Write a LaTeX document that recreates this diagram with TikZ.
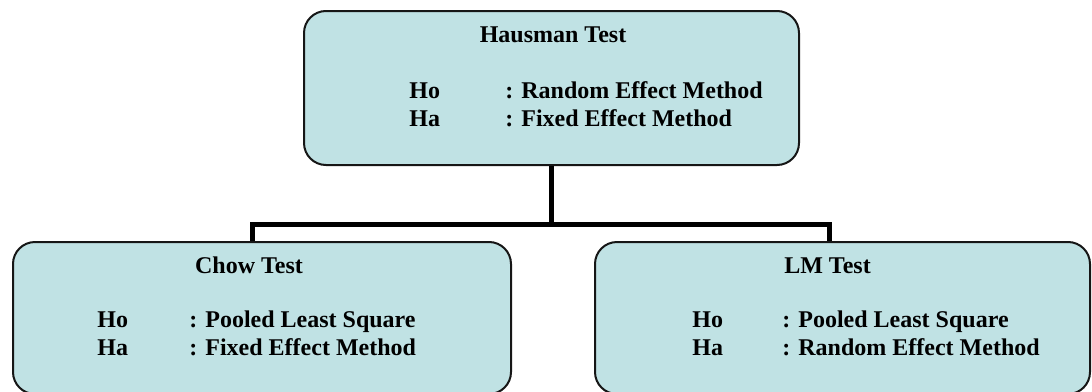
\documentclass[tikz,border=0pt]{standalone}
\usepackage{fontspec}
\setmainfont{Liberation Serif}
\usepackage{tikz}

\definecolor{boxfill}{RGB}{192,226,228}
\definecolor{boxline}{RGB}{22,22,22}
\newcommand{\hypo}[3][46pt]{\makebox[#1][l]{#2}: #3}

\begin{document}
\begin{tikzpicture}[x=0.5pt,y=-0.5pt,
  testbox/.style={draw=boxline, line width=1pt, fill=boxfill, rounded corners=11pt, inner sep=0pt},
  title/.style={font=\fontsize{12}{14}\selectfont\bfseries, inner sep=0pt, anchor=base},
  hyp/.style={font=\fontsize{12}{14}\selectfont\bfseries, inner sep=0pt, anchor=base west},
  link/.style={draw=black, line width=2.5pt}]
\useasboundingbox (0,0) rectangle (1092,391);

\node[testbox, minimum width=247.5pt, minimum height=77pt] (hausman) at (551.5,88) {};
\node[testbox, minimum width=249pt, minimum height=76pt] (chow) at (262,318) {};
\node[testbox, minimum width=247.5pt, minimum height=76pt] (lm) at (842.5,318) {};

\node[title] (hausmanT) at (553,42) {Hausman Test};
\node[hyp] (hausmanHo) at (409,98) {\hypo[48pt]{Ho}{Random Effect Method}};
\node[hyp] (hausmanHa) at (409,126) {\hypo[48pt]{Ha}{Fixed Effect Method}};

\node[title] (chowT) at (249,273) {Chow Test};
\node[hyp] (chowHo) at (97,327) {\hypo{Ho}{Pooled Least Square}};
\node[hyp] (chowHa) at (97,355) {\hypo{Ha}{Fixed Effect Method}};

\node[title] (lmT) at (827.5,273) {LM Test};
\node[hyp] (lmHo) at (692,327) {\hypo[45pt]{Ho}{Pooled Least Square}};
\node[hyp] (lmHa) at (692,355) {\hypo[45pt]{Ha}{Random Effect Method}};

\coordinate (fork) at (553,225);
\draw[link] (hausman.south) -- (hausman.south |- fork);
\draw[link] ([xshift=-5pt]chow.north) -- ++(0,-17) -| ([xshift=-6.75pt]lm.north);
\end{tikzpicture}
\end{document}
